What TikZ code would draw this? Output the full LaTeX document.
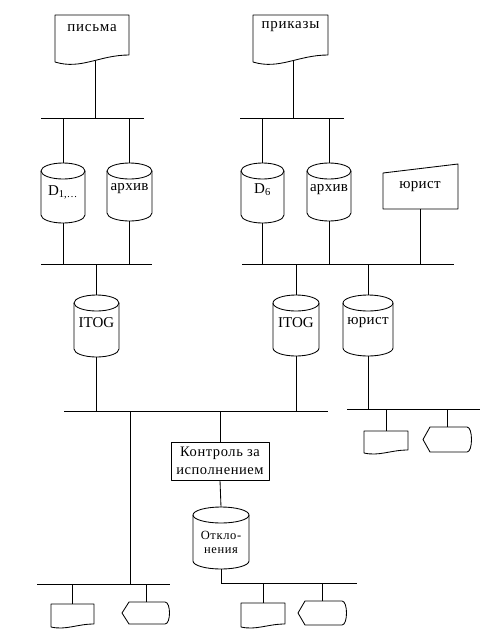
\documentclass[tikz,border=0pt]{standalone}
\usepackage{fontspec}
\setmainfont{Liberation Serif}
\tikzset{
  shp/.style={line width=0.85pt, line join=round},
  con/.style={line width=0.85pt},
  txt/.style={inner sep=0pt, font=\fontsize{15}{17}\selectfont},
  rtxt/.style={inner sep=0pt, font=\fontsize{15}{17}\selectfont\addfontfeatures{LetterSpace=2}},
  dtxt/.style={inner sep=0pt, font=\fontsize{15}{17}\selectfont\addfontfeatures{LetterSpace=5}},
  sptxt/.style={inner sep=0pt, font=\fontsize{14.5}{18}\selectfont\addfontfeatures{LetterSpace=4}, align=center},
  smtxt/.style={inner sep=0pt, font=\fontsize{12.5}{15}\selectfont\addfontfeatures{LetterSpace=5}},
}
\newcommand{\ery}{8}
% cylinder: name, x1, x2, top, bottom, text y, text, text style
\newcommand{\Cyl}[8]{%
  \pgfmathsetmacro\cmx{(#2+#3)/2}%
  \pgfmathsetmacro\crx{(#3-#2)/2}%
  \draw[shp] (\cmx,#4+\ery) ellipse[x radius=\crx pt, y radius=\ery pt];
  \draw[shp] (#2,#4+\ery) -- (#2,#5-\ery) arc[start angle=180,end angle=360,x radius=\crx pt,y radius=\ery pt] -- (#3,#4+\ery);
  \coordinate (#1n) at (\cmx,#4);
  \coordinate (#1s) at (\cmx,#5);
  \node[#8] (#1) at (\cmx,#6) {#7};
}
% document: name, x1, x2, top, yl, yr, text y, text
\newcommand{\Doc}[8]{%
  \draw[shp] (#3,#6) -- (#3,#4) -- (#2,#4) -- (#2,#5)
    .. controls ({#2+0.35*(#3-#2)},{#5+1.15*(#5-#6)}) and ({#2+0.6*(#3-#2)},#6) .. (#3,#6);
  \coordinate (#1n) at ({(#2+#3)/2},#4);
  \coordinate (#1s) at ({#2+0.54*(#3-#2)},{(#5+#6)/2+2});
  \node[dtxt] (#1) at ({(#2+#3)/2},#7) {#8};
}
% display: name, x1, x2, top, bottom
\newcommand{\Disp}[5]{%
  \draw[shp] (#2+7,#4) -- (#3-5,#4) .. controls (#3+1,#4) and (#3+1,#5) .. (#3-5,#5) -- (#2+7,#5) -- (#2,{(#4+#5)/2}) -- cycle;
  \coordinate (#1n) at ({(#2+#3)/2},#4);
}
\begin{document}
\begin{tikzpicture}[x=1pt,y=-1pt]
\useasboundingbox (0,0) rectangle (490,633);
% top documents
\Doc{pis}{55}{129}{15}{62}{55}{28}{письма}
\Doc{prik}{253}{328}{15}{62}{55}{27}{приказы}
% buses level 1
\coordinate (bLa) at (41,118); \coordinate (bLb) at (144,118);
\coordinate (bRa) at (240,118); \coordinate (bRb) at (344,118);
\draw[con] (bLa) -- (bLb);
\draw[con] (bRa) -- (bRb);
\draw[con] (piss) -- (piss |- bLa);
\draw[con] (priks) -- (priks |- bRa);
% cylinders level 1
\Cyl{da}{41}{85}{163}{223}{192}{D\textsubscript{1,…}}{txt}
\Cyl{ara}{107}{152}{163}{221}{189}{архив}{rtxt}
\Cyl{db}{241}{284}{163}{223}{190}{D\textsubscript{6}}{txt}
\Cyl{arb}{307}{351}{163}{221}{190}{архив}{rtxt}
% manual input
\draw[shp] (383,173) -- (458,164) -- (458,209) -- (383,209) -- cycle;
\coordinate (jurn) at (420.5,164);
\coordinate (jurs) at (420.5,209);
\node[rtxt] (jur) at (420,187) {юрист};
\draw[con] (dan) -- (dan |- bLa);
\draw[con] (aran) -- (aran |- bLa);
\draw[con] (dbn) -- (dbn |- bRa);
\draw[con] (arbn) -- (arbn |- bRa);
% buses level 2
\coordinate (cLa) at (41,264); \coordinate (cLb) at (152,264);
\coordinate (cRa) at (242,264); \coordinate (cRb) at (454,264);
\draw[con] (cLa) -- (cLb);
\draw[con] (cRa) -- (cRb);
\draw[con] (das) -- (das |- cLa);
\draw[con] (aras) -- (aras |- cLa);
\draw[con] (dbs) -- (dbs |- cRa);
\draw[con] (arbs) -- (arbs |- cRa);
\draw[con] (jurs) -- (jurs |- cRa);
% level 3 cylinders
\Cyl{ita}{74}{119}{295}{357}{323}{ITOG}{txt}
\Cyl{itb}{273}{319}{295}{356}{323}{ITOG}{txt}
\Cyl{jc}{343}{393}{295}{356}{323}{юрист}{rtxt}
\draw[con] (itan) -- (itan |- cLa);
\draw[con] (itbn) -- (itbn |- cRa);
\draw[con] (jcn) -- (jcn |- cRa);
% main bus
\coordinate (mA) at (64,411); \coordinate (mB) at (328,411);
\coordinate (mC) at (130,411);
\draw[con] (mA) -- (mB);
\draw[con] (itas) -- (itas |- mA);
\draw[con] (itbs) -- (itbs |- mA);
% jurist bus
\coordinate (jA) at (347,409); \coordinate (jB) at (480,409);
\draw[con] (jA) -- (jB);
\draw[con] (jcs) -- (jcs |- jA);
\Doc{jd}{364}{408}{431}{453}{450}{441}{}
\Disp{jdisp}{423}{472}{427}{452}
\draw[con] (jdn) -- (jdn |- jA);
\draw[con] (jdispn) -- (jdispn |- jA);
% control
\node[draw, shp, minimum width=98pt, minimum height=38pt, inner sep=0pt] (ctrl) at (220,461) {};
\node[sptxt] (ctrlt) at (220,461) {Контроль за\\исполнением};
\draw[con] (ctrl.north) -- (ctrl.north |- mA);
\Cyl{otk}{193}{249}{507}{569}{535}{Откло-}{smtxt}
\node[smtxt] (otk2) at (221,551) {нения};
\draw[con] (ctrl.south) -- (otkn);
% bottom buses
\coordinate (lA) at (37,584); \coordinate (lB) at (170,584);
\draw[con] (lA) -- (lB);
\draw[con] (mC) -- (mC |- lA);
\coordinate (rB) at (357,583);
\draw[con] (otks) |- (rB);
\Doc{ld}{51}{94}{604}{627}{624}{615}{}
\Disp{ldisp}{122}{170}{602}{624}
\draw[con] (ldn) -- (ldn |- lA);
\draw[con] (ldispn) -- (ldispn |- lA);
\Doc{rd}{241}{285}{603}{627}{624}{615}{}
\Disp{rdisp}{298}{347}{601}{625}
\draw[con] (rdn) -- (rdn |- rB);
\draw[con] (rdispn) -- (rdispn |- rB);
\end{tikzpicture}
\end{document}
